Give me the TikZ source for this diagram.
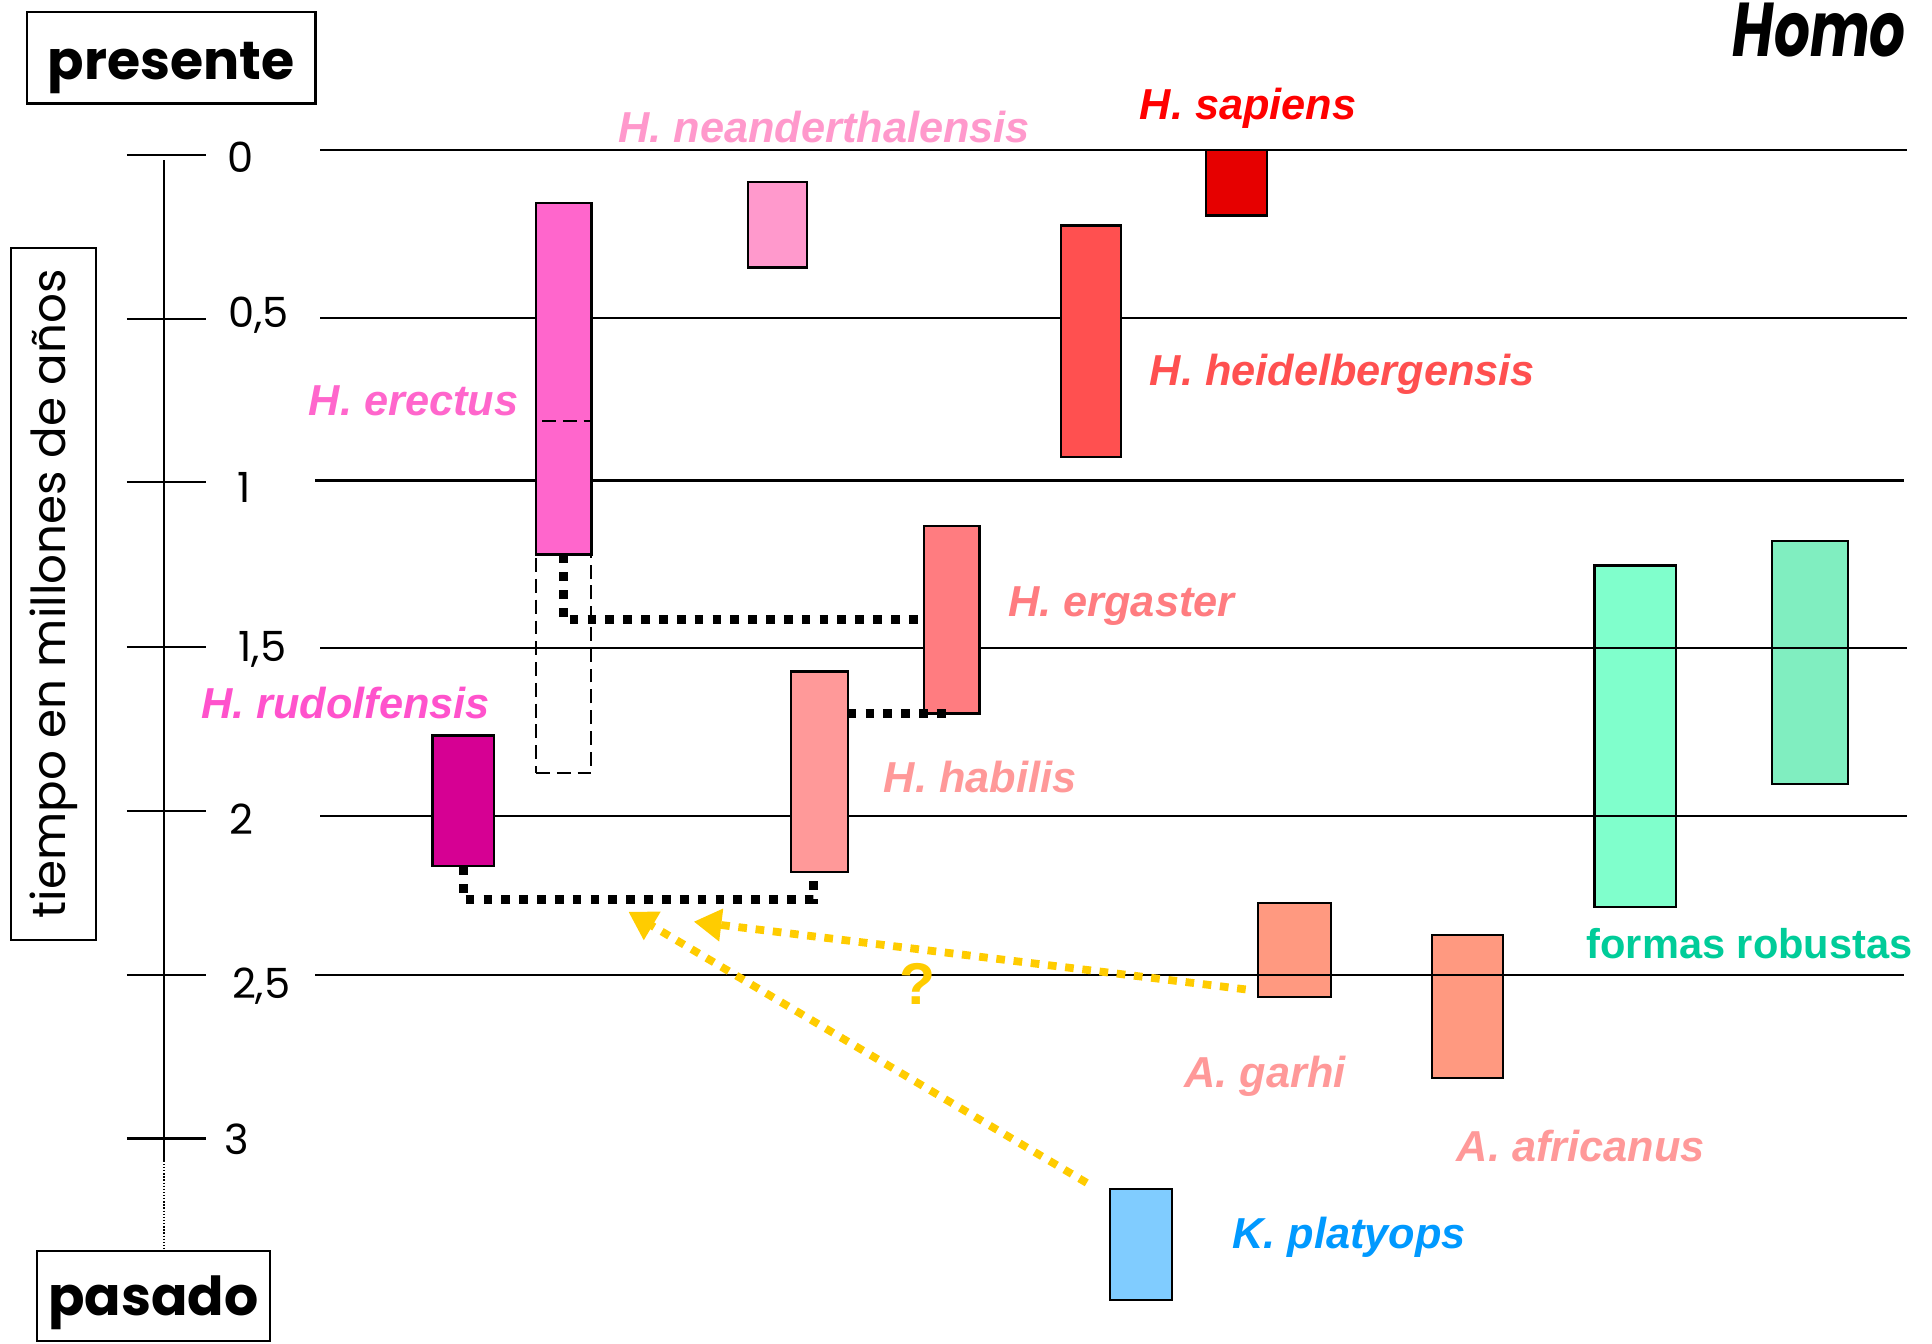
\documentclass[tikz,border=0pt]{standalone}
\usepackage{fontspec}
\setmainfont{Liberation Sans}
\newfontfamily\comic{Poppins}
\usetikzlibrary{arrows.meta,fit,calc}
\definecolor{cEre}{HTML}{FF66CC}
\definecolor{cNea}{HTML}{FF99CC}
\definecolor{cSap}{HTML}{E60000}
\definecolor{cSapT}{HTML}{FF0000}
\definecolor{cHei}{HTML}{FF5050}
\definecolor{cErg}{HTML}{FF7C80}
\definecolor{cHab}{HTML}{FF9999}
\definecolor{cRud}{HTML}{D60093}
\definecolor{cRudT}{HTML}{FF52CC}
\definecolor{cAus}{HTML}{FF9980}
\definecolor{cPla}{HTML}{80CCFF}
\definecolor{cPlaT}{HTML}{0099FF}
\definecolor{cRob}{HTML}{80FFCC}
\definecolor{cRobB}{HTML}{80EEC0}
\definecolor{cRobT}{HTML}{00CC99}
\definecolor{cYel}{HTML}{FFCC00}
\tikzset{
  spbox/.style={draw=black, line width=1.3pt, inner sep=0pt, outer sep=0pt},
  lab/.style={font=\fontsize{25}{30}\selectfont\bfseries\itshape, inner sep=0pt},
  hl/.style={line width=1.2pt},
  num/.style={font=\comic\fontsize{24}{28}\selectfont, inner sep=0pt, anchor=base},
  bdots/.style={line width=5pt, dash pattern=on 5pt off 5.3pt},
  ydots/.style={draw=cYel, line width=4.5pt, dash pattern=on 5pt off 5pt, -{Triangle[length=16pt,width=18pt]}},
  titlebox/.style={draw=black, line width=1.2pt, inner sep=0pt},
  longdash/.style={line width=1.1pt, dash pattern=on 8pt off 4pt},
}
\begin{document}
\begin{tikzpicture}[x=0.025cm,y=-0.025cm]
\useasboundingbox (0,0) rectangle (1568,1090);
\fill[white] (0,0) rectangle (1568,1090);

% boxes behind the time lines
\node[spbox, fill=cRob, fit={(1294,459) (1360,736)}] (rob1) {};
\node[spbox, fill=cRobB, fit={(1438,439) (1500,636)}] (rob2) {};
\node[spbox, fill=cAus, fit={(1021,733) (1080,809)}] (gar) {};
\node[spbox, fill=cAus, fit={(1162,759) (1220,875)}] (afr) {};

% time lines
\draw[hl] (260,122) -- (1548,122);
\draw[hl] (260,258) -- (1548,258);
\draw[hl] (256,390) -- (1545,390);
\draw[hl] (260,526) -- (1548,526);
\draw[hl] (260,662) -- (1548,662);
\draw[hl] (256,791) -- (1545,791);

% axis
\draw[hl] (133,130) -- (133,942) coordinate (axend);
\foreach \yy in {126,259,391,525,658,791,924}{
  \draw[hl] (103,\yy) -- (167,\yy);
}
\node[num] (n0) at (195,140) {0};
\node[num] (n05) at (210,266) {0,5};
\node[num] (n1) at (198,408) {1};
\node[num] (n15) at (213,537) {1,5};
\node[num] (n2) at (196,677) {2};
\node[num] (n25) at (212,810) {2,5};
\node[num] (n3) at (192,937) {3};

% title boxes
\node[titlebox, minimum width=5.85cm, minimum height=1.85cm, text height=25pt, text depth=0pt, font=\comic\bfseries\fontsize{31}{34}\selectfont] (presente) at (139,47) {presente};
\node[titlebox, minimum width=4.725cm, minimum height=1.825cm, text height=23pt, text depth=0pt, font=\comic\bfseries\fontsize{31}{34}\selectfont] (pasado) at (124.5,1051.5) {pasado};
\node[titlebox, rotate=90, minimum width=14.05cm, minimum height=1.725cm, font=\comic\fontsize{27}{30}\selectfont] (tiempo) at (43.5,482) {tiempo en millones de años};
\draw[densely dotted, line width=0.8pt] (axend) -- (axend |- pasado.north);
\node[font=\comic\bfseries\itshape\fontsize{44}{46}\selectfont, inner sep=0pt, anchor=base east] (homo) at (1547,46) {\scalebox{0.74}[1]{Homo}};

% species boxes
\node[draw=black, longdash, inner sep=0pt, fit={(435,450) (480,627)}] (erb) {};
\node[spbox, fill=cEre, fit={(435,165) (480,450)}] (erectus) {};
\draw[longdash] (440,342) -- (erectus.east |- 440,342);
\node[spbox, fill=cNea, fit={(607,148) (655,217)}] (nea) {};
\node[spbox, fill=cSap, fit={(979,122) (1028,175)}] (sap) {};
\node[spbox, fill=cHei, fit={(861,183) (910,371)}] (hei) {};
\node[spbox, fill=cErg, fit={(750,427) (795,579)}] (erg) {};
\node[spbox, fill=cHab, fit={(642,545) (688,708)}] (hab) {};
\node[spbox, fill=cRud, fit={(351,597) (401,703)}] (rud) {};
\node[spbox, fill=cPla, fit={(901,965) (951,1055)}] (pla) {};

% black dotted connectors
\draw[bdots] (erectus.south) |- (erg.west);
\draw[bdots] (hab.east |- erg.south) -- ([xshift=-0.12cm]erg.south);
\draw[bdots] (rud.south) -- ++(0,27) -| ([xshift=-0.125cm]hab.south);

% yellow arrows
\coordinate (a1) at (563,748);
\coordinate (a2) at (510,740);
\draw[ydots] ($(gar.south west)+(-10,-6)$) -- (a1);
\draw[ydots] ($(pla.north west)+(-19,-5)$) -- (a2);
\node[font=\fontsize{34}{36}\selectfont\bfseries, text=cYel, inner sep=0pt, anchor=base] (q) at (745,815) {?};

% labels
\node[lab, text=cNea, anchor=base] (tnea) at (669,116) {H. neanderthalensis};
\node[lab, text=cSapT, anchor=base] (tsap) at (1013,97) {H. sapiens};
\node[lab, text=cHei, anchor=base west] (thei) at (933,313) {H. heidelbergensis};
\node[lab, text=cEre, anchor=base east] (tere) at (421,337) {H. erectus};
\node[lab, text=cErg, anchor=base west] (terg) at (818,500) {H. ergaster};
\node[lab, text=cRudT, anchor=base east] (trud) at (398,583) {H. rudolfensis};
\node[lab, text=cHab, anchor=base west] (thab) at (717,643) {H. habilis};
\node[lab, text=cHab, anchor=base west] (tgar) at (961,883) {A. garhi};
\node[lab, text=cHab, anchor=base west] (tafr) at (1182,943) {A. africanus};
\node[lab, text=cPlaT, anchor=base west] (tpla) at (1000,1013) {K. platyops};
\node[font=\fontsize{24}{28}\selectfont\bfseries, text=cRobT, inner sep=0pt, anchor=base] (trob) at (1420,778) {formas robustas};
\end{tikzpicture}
\end{document}
